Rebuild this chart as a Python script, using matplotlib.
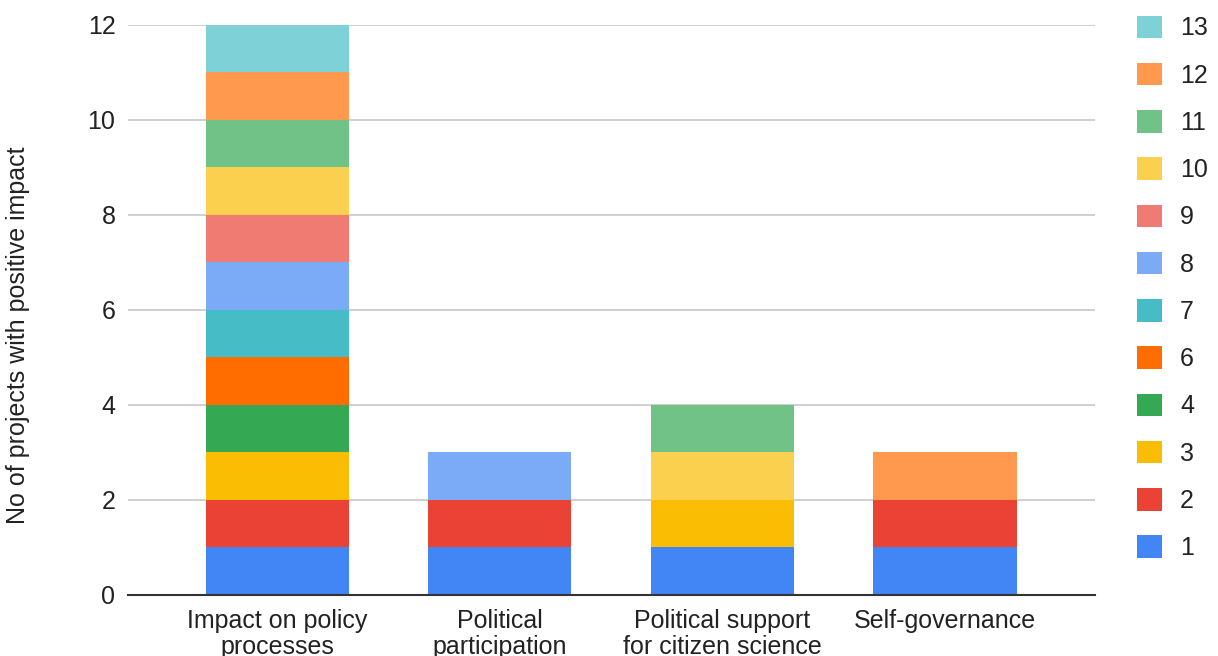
import matplotlib
matplotlib.use("Agg")
from matplotlib import pyplot as plt
import numpy as np

plt.rcParams["font.family"] = ["Liberation Sans", "DejaVu Sans"]

categories = [
    "Impact on policy\nprocesses",
    "Political\nparticipation",
    "Political support\nfor citizen science",
    "Self-governance",
]

series_labels = ["1", "2", "3", "4", "6", "7", "8", "9", "10", "11", "12", "13"]

# one row per series, one column per category
counts = [
    [1, 1, 1, 1],  # 1
    [1, 1, 0, 1],  # 2
    [1, 0, 1, 0],  # 3
    [1, 0, 0, 0],  # 4
    [1, 0, 0, 0],  # 6
    [1, 0, 0, 0],  # 7
    [1, 1, 0, 0],  # 8
    [1, 0, 0, 0],  # 9
    [1, 0, 1, 0],  # 10
    [1, 0, 1, 0],  # 11
    [1, 0, 0, 1],  # 12
    [1, 0, 0, 0],  # 13
]

colors = [
    "#4285F4", "#EA4335", "#FBBC04", "#34A853", "#FF6D01", "#46BDC6",
    "#7BAAF7", "#F07B72", "#FCD04F", "#71C287", "#FF994D", "#7ED1D7",
]

text_color = "#222222"
fs = 18

fig = plt.figure(figsize=(12.18, 6.56), dpi=100)
ax = fig.add_axes([0.105, 0.093, 0.794, 0.869])

x = np.arange(len(categories))
bottom = np.zeros(len(categories))
handles = []
for label, row, color in zip(series_labels, counts, colors):
    vals = np.array(row, dtype=float)
    bars = ax.bar(x, vals, width=0.643, bottom=bottom, color=color,
                  label=label, zorder=3, linewidth=0)
    handles.append(bars)
    bottom += vals

ax.set_ylim(0, 12)
ax.set_xlim(-0.672, 3.674)
ax.set_yticks(range(0, 13, 2))
ax.set_xticks(x)
ax.set_xticklabels(categories, fontsize=fs, color=text_color, linespacing=1.1)
ax.tick_params(axis="y", length=0, pad=9, labelsize=fs, labelcolor=text_color)
ax.tick_params(axis="x", length=0, pad=10)
ax.grid(axis="y", color="#cccccc", linewidth=1.3, zorder=0)

for side in ["left", "right", "top"]:
    ax.spines[side].set_visible(False)
ax.spines["bottom"].set_color("#333333")
ax.spines["bottom"].set_linewidth(1.5)
ax.spines["bottom"].set_zorder(4)

fig.text(0.015, 0.489, "No of projects with positive impact", rotation=90,
         ha="center", va="center", fontsize=fs, color=text_color)

fig.legend(handles[::-1], series_labels[::-1], loc="upper left",
           bbox_to_anchor=(0.9335, 0.976), frameon=False, fontsize=fs,
           handlelength=1.0, handleheight=1.0, handletextpad=0.72,
           labelspacing=0.9, borderpad=0, borderaxespad=0,
           labelcolor=text_color)

fig.savefig("out.png", dpi=100)
